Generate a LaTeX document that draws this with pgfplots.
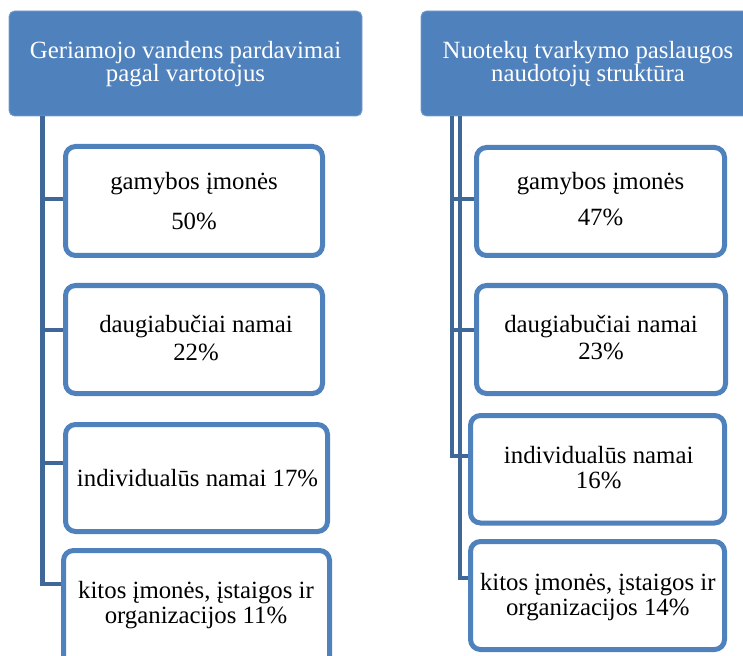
\documentclass[border=0pt]{standalone}
\usepackage{pgfplots}
\pgfplotsset{compat=1.18}
\usepackage{fontspec}
\setmainfont{Liberation Serif}
\definecolor{accent}{HTML}{4F81BD}
\definecolor{conn}{HTML}{3F6899}
\newcommand\bx{\fontsize{18.6}{22}\selectfont}
\begin{document}
\begin{tikzpicture}
\begin{axis}[
  scale only axis, width=557.25pt, height=492pt,
  xmin=0, xmax=743, ymin=0, ymax=656, y dir=reverse,
  hide axis, clip=true,
]
% invisible frame to fix bounding box
\addplot[draw=none] coordinates {(0,0) (743,656)};

% ---------- headers ----------
\addplot[fill=accent, draw=accent!75!white, line width=0.6pt, rounded corners=4pt]
  coordinates {(185,11) (362,11) (362,116) (9,116) (9,11) (185,11)};
\addplot[fill=accent, draw=accent!75!white, line width=0.6pt, rounded corners=4pt]
  coordinates {(743,11) (421,11) (421,116) (743,116)};

% ---------- connectors (left) ----------
\addplot[conn, line width=3.5pt, line join=miter] coordinates {(42.5,116) (42.5,584) (64,584)};
\addplot[conn, line width=3.5pt] coordinates {(42.5,199) (64,199)};
\addplot[conn, line width=3.5pt] coordinates {(42.5,330) (64,330)};
\addplot[conn, line width=3.5pt] coordinates {(42.5,463) (64,463)};

% ---------- connectors (right) ----------
\addplot[conn, line width=3.4pt, line join=miter] coordinates {(452,116) (452,456) (470,456)};
\addplot[conn, line width=3.4pt, line join=miter] coordinates {(460,116) (460,578) (470,578)};
\addplot[conn, line width=3.4pt] coordinates {(452,199) (476,199)};
\addplot[conn, line width=3.4pt] coordinates {(452,330) (476,330)};

% ---------- boxes (left) ----------
\addplot[fill=white, draw=accent, line width=3.75pt, rounded corners=7.5pt]
  coordinates {(194,146.5) (322.5,146.5) (322.5,255.5) (65.5,255.5) (65.5,146.5) (194,146.5)};
\addplot[fill=white, draw=accent, line width=3.75pt, rounded corners=7.5pt]
  coordinates {(194,285.5) (322.5,285.5) (322.5,393.5) (65.5,393.5) (65.5,285.5) (194,285.5)};
\addplot[fill=white, draw=accent, line width=3.75pt, rounded corners=7.5pt]
  coordinates {(196,424.5) (327.5,424.5) (327.5,531.5) (65.5,531.5) (65.5,424.5) (196,424.5)};
\addplot[fill=white, draw=accent, line width=3.75pt, rounded corners=7.5pt]
  coordinates {(63.5,656) (63.5,550.5) (329.5,550.5) (329.5,656)};

% ---------- boxes (right) ----------
\addplot[fill=white, draw=accent, line width=3.75pt, rounded corners=7.5pt]
  coordinates {(600,147.5) (724.5,147.5) (724.5,255.5) (476.5,255.5) (476.5,147.5) (600,147.5)};
\addplot[fill=white, draw=accent, line width=3.75pt, rounded corners=7.5pt]
  coordinates {(600,285.5) (725.5,285.5) (725.5,393.5) (476.5,393.5) (476.5,285.5) (600,285.5)};
\addplot[fill=white, draw=accent, line width=3.75pt, rounded corners=7.5pt]
  coordinates {(598,415.5) (724.5,415.5) (724.5,523) (470.5,523) (470.5,415.5) (598,415.5)};
\addplot[fill=white, draw=accent, line width=3.75pt, rounded corners=7.5pt]
  coordinates {(598,541.5) (724.5,541.5) (724.5,649.5) (470.5,649.5) (470.5,541.5) (598,541.5)};

% ---------- texts ----------
\node[anchor=base, text=white, font=\bx] at (axis cs:185.5,58.3) {Geriamojo vandens pardavimai};
\node[anchor=base, text=white, font=\bx] at (axis cs:185.5,81.7) {pagal vartotojus};
\node[anchor=base, text=white, font=\bx] at (axis cs:588,58.3) {Nuotekų tvarkymo paslaugos};
\node[anchor=base, text=white, font=\bx] at (axis cs:588,81.7) {naudotojų struktūra};

\node[anchor=base, font=\bx] at (axis cs:194,189.5) {gamybos įmonės};
\node[anchor=base, font=\bx] at (axis cs:194,229.3) {50\%};
\node[anchor=base, font=\bx] at (axis cs:196,332.7) {daugiabučiai namai};
\node[anchor=base, font=\bx] at (axis cs:196,360) {22\%};
\node[anchor=base, font=\bx] at (axis cs:197.5,486) {individualūs namai 17\%};
\node[anchor=base, font=\bx] at (axis cs:196,598.3) {kitos įmonės, įstaigos ir};
\node[anchor=base, font=\bx] at (axis cs:196,623.3) {organizacijos 11\%};

\node[anchor=base, font=\bx] at (axis cs:600.5,190) {gamybos įmonės};
\node[anchor=base, font=\bx] at (axis cs:600.5,226) {47\%};
\node[anchor=base, font=\bx] at (axis cs:601,332.7) {daugiabučiai namai};
\node[anchor=base, font=\bx] at (axis cs:601,359) {23\%};
\node[anchor=base, font=\bx] at (axis cs:598.7,463.3) {individualūs namai};
\node[anchor=base, font=\bx] at (axis cs:598.7,488.3) {16\%};
\node[anchor=base, font=\bx] at (axis cs:597.8,590.7) {kitos įmonės, įstaigos ir};
\node[anchor=base, font=\bx] at (axis cs:597.8,615) {organizacijos 14\%};
\end{axis}
\end{tikzpicture}
\end{document}
